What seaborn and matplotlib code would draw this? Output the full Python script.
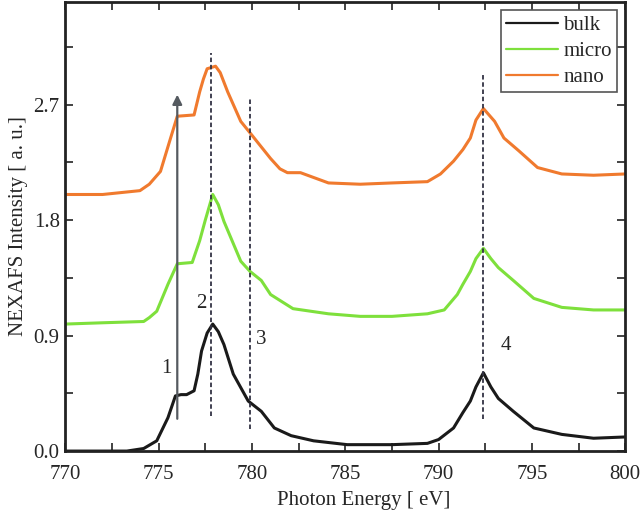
import numpy as np
import pandas as pd
import matplotlib
matplotlib.use('Agg')
import matplotlib.pyplot as plt
from matplotlib.ticker import MultipleLocator, FormatStrFormatter
import seaborn as sns

# spectra (photon energy in eV, intensity in a.u.)
bulk_e = [770, 772, 773.3, 774.2, 774.9, 775.5, 775.9, 776.2, 776.5, 776.9, 777.1, 777.3,
          777.6, 777.9, 778.2, 778.5, 779.0, 779.8, 780.5, 781.2, 782.1, 783.3, 785.1,
          787.5, 789.4, 790.0, 790.8, 791.3, 791.7, 792.0, 792.4, 792.8, 793.2, 794.0,
          795.1, 796.6, 798.3, 800]
bulk_i = [0.0, 0.0, 0.0, 0.02, 0.08, 0.26, 0.43, 0.44, 0.44, 0.47, 0.60, 0.78,
          0.92, 0.99, 0.93, 0.83, 0.60, 0.39, 0.31, 0.18, 0.12, 0.08, 0.05,
          0.05, 0.06, 0.09, 0.18, 0.30, 0.39, 0.50, 0.61, 0.50, 0.41, 0.31,
          0.18, 0.13, 0.10, 0.11]

micro_e = [770, 772, 774.2, 774.5, 774.9, 775.5, 776.0, 776.8, 777.2, 777.5, 777.7, 777.9,
           778.2, 778.5, 779.4, 779.9, 780.5, 781.0, 782.2, 784.1, 785.8, 787.5, 789.4,
           790.3, 791.0, 791.3, 791.7, 792.0, 792.4, 792.8, 793.2, 794.0, 795.1, 796.6,
           798.3, 800]
micro_i = [0.99, 1.0, 1.01, 1.04, 1.09, 1.30, 1.46, 1.47, 1.64, 1.80, 1.90, 2.0,
           1.92, 1.79, 1.48, 1.40, 1.33, 1.22, 1.11, 1.07, 1.05, 1.05, 1.07,
           1.10, 1.22, 1.30, 1.40, 1.50, 1.58, 1.50, 1.43, 1.33, 1.19, 1.12,
           1.10, 1.10]

nano_e = [770, 772, 774.0, 774.5, 775.1, 775.6, 776.0, 776.9, 777.2, 777.4, 777.6, 778.05,
          778.3, 778.7, 779.4, 779.9, 781.0, 781.5, 781.9, 782.6, 784.1, 785.8, 787.5,
          789.4, 790.1, 790.8, 791.3, 791.7, 792.0, 792.4, 792.7, 793.0, 793.5, 794.3,
          795.3, 796.6, 798.3, 800]
nano_i = [2.0, 2.0, 2.03, 2.08, 2.18, 2.42, 2.61, 2.62, 2.8, 2.9, 2.98, 3.0,
          2.95, 2.8, 2.57, 2.48, 2.28, 2.2, 2.17, 2.17, 2.09, 2.08, 2.09,
          2.1, 2.16, 2.26, 2.35, 2.44, 2.58, 2.67, 2.62, 2.57, 2.44, 2.34,
          2.21, 2.16, 2.15, 2.16]

series_names = ['bulk', 'micro', 'nano']
series_colors = ['#1a1a1a', '#7ee03c', '#f07a2e']

# marker lines and peak labels
dash_e = [777.8, 779.9, 792.4]
dash_lo = [0.27, 0.17, 0.25]
dash_hi = [3.1, 2.76, 2.93]
arrow_e, arrow_lo, arrow_hi = 776.0, 0.23, 2.8
label_txt = ['1', '2', '3', '4']
label_e = [775.4, 777.3, 780.5, 793.6]
label_y = [0.64, 1.15, 0.87, 0.82]

df = pd.concat([
    pd.DataFrame({'energy': bulk_e, 'intensity': bulk_i, 'sample': 'bulk'}),
    pd.DataFrame({'energy': micro_e, 'intensity': micro_i, 'sample': 'micro'}),
    pd.DataFrame({'energy': nano_e, 'intensity': nano_i, 'sample': 'nano'}),
])

sns.set_style('ticks')
plt.rcParams['font.family'] = ['Liberation Serif', 'DejaVu Serif']

fig = plt.figure(figsize=(6.4, 5.12), dpi=100)
ax = fig.add_axes([0.102, 0.119, 0.875, 0.877])

sns.lineplot(data=df, x='energy', y='intensity', hue='sample', hue_order=series_names,
             palette=dict(zip(series_names, series_colors)), linewidth=2.2,
             sort=False, estimator=None, ax=ax)

for e, lo, hi in zip(dash_e, dash_lo, dash_hi):
    ax.plot([e, e], [lo, hi], ls=(0, (2.5, 1.5)), color='#333344', lw=1.3)
ax.annotate('', xy=(arrow_e, arrow_hi), xytext=(arrow_e, arrow_lo),
            arrowprops=dict(arrowstyle='-|>', color='#555a60', lw=1.6, mutation_scale=14))
for t, e, y in zip(label_txt, label_e, label_y):
    ax.text(e, y, t, fontsize=15, ha='center', va='center')

ax.set_xlim(770, 800)
ax.set_ylim(0, 3.5)
ax.xaxis.set_major_locator(MultipleLocator(5))
ax.xaxis.set_minor_locator(MultipleLocator(2.5))
ax.yaxis.set_major_locator(MultipleLocator(0.9))
ax.yaxis.set_minor_locator(MultipleLocator(0.45))
ax.yaxis.set_major_formatter(FormatStrFormatter('%.1f'))
ax.tick_params(which='both', direction='in', top=True, right=True, length=6, width=1.2,
               labelsize=15, color='#222222')
ax.tick_params(axis='x', which='both', pad=10)
ax.tick_params(axis='y', which='both', pad=4)
for s in ax.spines.values():
    s.set_linewidth(2)
    s.set_color('#222222')

ax.set_xlabel('Photon Energy [ eV]', fontsize=15, labelpad=6)
ax.xaxis.set_label_coords(0.532, -0.088)
ax.set_ylabel('NEXAFS Intensity [ a. u.]', fontsize=15)

leg = ax.legend(loc='upper right', fontsize=15, frameon=True, fancybox=False,
                handlelength=2.5, borderaxespad=0.4, labelspacing=0.3, handletextpad=0.25,
                borderpad=0.25)
leg.get_frame().set_edgecolor('#555555')
leg.get_frame().set_linewidth(1.2)
leg.get_frame().set_alpha(1)
for h in leg.get_lines():
    h.set_linewidth(1.6)

fig.savefig('out.png', dpi=100)
